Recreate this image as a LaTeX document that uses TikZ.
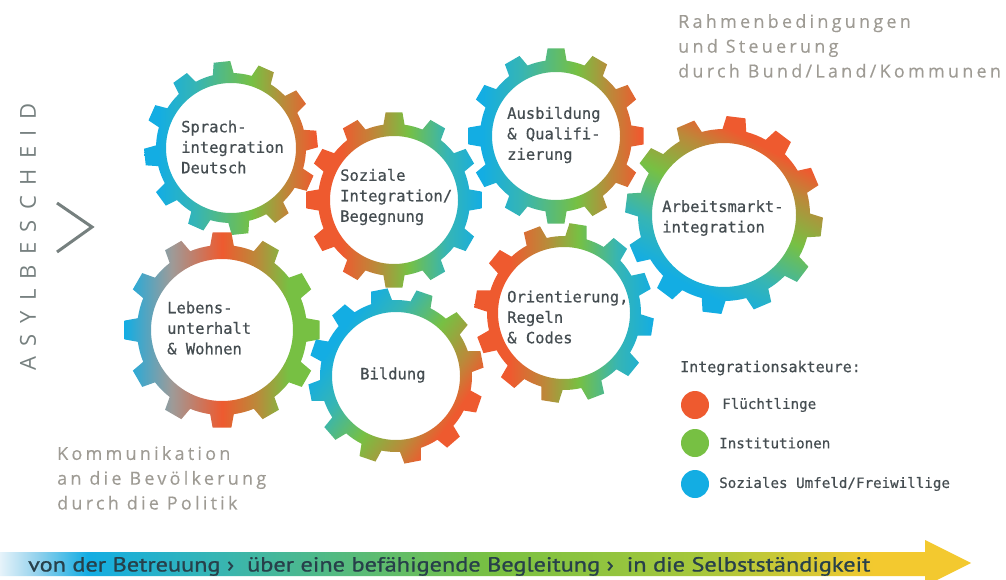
\documentclass[tikz,border=0pt]{standalone}
\usepackage{fontspec}
\usepackage{graphicx}
\setmainfont{DejaVu Sans}
\newfontfamily\monof[FakeBold=0.6]{DejaVu Sans Mono}
\newfontfamily\cornerf[LetterSpace=18, FakeBold=0.3]{Open Sans}
\newfontfamily\asylf[LetterSpace=47]{Open Sans}
\newfontfamily\arrowf[FakeBold=0.8]{PT Sans}
\definecolor{cBlue}{HTML}{13ADE3}
\definecolor{cTeal}{HTML}{36B5B4}
\definecolor{cGreen}{HTML}{77C043}
\definecolor{cBrown}{HTML}{BA8A3A}
\definecolor{cRed}{HTML}{EE5A2F}
\definecolor{cGrey}{HTML}{9D9B99}
\definecolor{cText}{HTML}{454D51}
\definecolor{cCorner}{HTML}{9E9B94}
\definecolor{cAsyl}{HTML}{76807F}
\definecolor{cArrowText}{HTML}{27404A}
\definecolor{cPale}{HTML}{E6F3FA}
\definecolor{cPaleB}{HTML}{8FD0EC}
\definecolor{cYG}{HTML}{A6C73B}
\definecolor{cYel}{HTML}{F3C92F}
\pgfdeclarehorizontalshading{bgr}{100bp}{color(0bp)=(cBlue); color(25bp)=(cBlue); color(29bp)=(cBlue); color(40bp)=(cTeal); color(56bp)=(cGreen); color(65bp)=(cBrown); color(74bp)=(cRed); color(100bp)=(cRed)}
\pgfdeclarehorizontalshading{bgrx}{100bp}{color(0bp)=(cBlue); color(25bp)=(cBlue); color(30bp)=(cBlue); color(40bp)=(cTeal); color(52bp)=(cGreen); color(63bp)=(cBrown); color(70bp)=(cRed); color(100bp)=(cRed)}
\pgfdeclarehorizontalshading{rgbs}{100bp}{color(0bp)=(cRed); color(25bp)=(cRed); color(35bp)=(cRed); color(45bp)=(cBrown); color(54bp)=(cGreen); color(65bp)=(cTeal); color(75bp)=(cBlue); color(100bp)=(cBlue)}
\pgfdeclarehorizontalshading{leb}{100bp}{color(0bp)=(cBlue); color(25bp)=(cBlue); color(37bp)=(cGrey); color(50bp)=(cRed); color(59bp)=(cBrown); color(67bp)=(cGreen); color(75bp)=(cGreen); color(100bp)=(cGreen)}
\pgfdeclarehorizontalshading{arr}{100bp}{color(0bp)=(cPale); color(25bp)=(cPale); color(27bp)=(cPaleB); color(29.5bp)=(cBlue); color(36bp)=(cTeal); color(50bp)=(cGreen); color(61bp)=(cYG); color(70bp)=(cYel); color(75bp)=(cYel); color(100bp)=(cYel)}
\newcommand\gearring[7]{%
  \begin{scope}[shift={(#1,#2)}]
    \shade[#7, even odd rule] ({#3-8}:#4)
      \foreach \k in {0,...,11}{
        -- ({#3+30*\k-5.5}:#5) -- ({#3+30*\k+5.5}:#5) -- ({#3+30*\k+8}:#4)
        arc[start angle={#3+30*\k+8}, end angle={#3+30*\k+22}, radius=#4]
      } -- cycle (0,0) circle[radius=#6];
  \end{scope}}
\tikzset{
  lbl/.style={anchor=west, align=left, inner sep=0pt, text=cText,
    font=\monof\fontsize{15.5}{20.5}\selectfont},
  legt/.style={anchor=west, inner sep=0pt, text=cText,
    font=\monof\fontsize{14.2}{17}\selectfont},
  legdot/.style={circle, inner sep=0pt, minimum size=28pt},
  corner/.style={anchor=north west, align=left, inner sep=0pt, text=cCorner,
    font=\cornerf\fontsize{18}{24.8}\selectfont}
}
\begin{document}
\begin{tikzpicture}[x=1pt,y=-1pt]
\useasboundingbox (0,0) rectangle (1006,580);
\clip (0,0) rectangle (1006,580);
% gears
\gearring{231}{148}{-96}{75}{87}{65}{shading=bgr}
\gearring{394}{200}{-90}{76}{88}{64}{shading=rgbs}
\gearring{556}{136}{-90}{76}{88}{64}{shading=bgr}
\gearring{724}{215}{-83}{86}{99}{72}{shading=bgrx, shading angle=62}
\gearring{222}{330}{-90}{85}{98}{71}{shading=leb}
\gearring{396}{376}{-101}{76}{88}{64}{shading=bgrx, shading angle=-35}
\gearring{564}{313}{-81}{77}{90}{66}{shading=rgbs}
% gear labels
\node[lbl] (t1) at (181,147) {Sprach-\\integration\\Deutsch};
\node[lbl] (t2) at (340,197) {Soziale\\Integration/\\Begegnung};
\node[lbl] (t3) at (507,135) {Ausbildung\\\& Qualifi-\\zierung};
\node[lbl] (t4) at (662,218) {Arbeitsmarkt-\\integration};
\node[lbl] (t5) at (167,328) {Lebens-\\unterhalt\\\& Wohnen};
\node[lbl] (t6) at (360,375) {Bildung};
\node[lbl] (t7) at (507,317) {Orientierung,\\Regeln\\\& Codes};
% corner texts
\node[corner] (rahmen) at (678,14) {Rahmenbedingungen\\und Steuerung\\durch Bund/Land/Kommunen};
\node[corner] (komm) at (57,446) {Kommunikation\\an die Bevölkerung\\durch die Politik};
% left label and chevron
\node[rotate=90, inner sep=0pt, text=cAsyl, font=\asylf\fontsize{22}{22}\selectfont] (asyl) at (28,237) {ASYLBESCHEID};
\coordinate (ch1) at (57,203);
\coordinate (ch2) at (92,227);
\coordinate (ch3) at (57,252);
\draw[cAsyl, line width=3pt] (ch1) -- (ch2) -- (ch3);
% legend
\node[anchor=west, inner sep=0pt, text=cText, font=\monof\fontsize{15}{17}\selectfont] (lt) at (680,368) {Integrationsakteure:};
\node[legdot, fill=cRed] (d1) at (695,405) {};
\node[legdot, fill=cGreen] (d2) at (695,443) {};
\node[legdot, fill=cBlue] (d3) at (695,484) {};
\node[legt] (l1) at (722,405) {Flüchtlinge};
\node[legt] (l2) at (719,443) {Institutionen};
\node[legt] (l3) at (719,484) {Soziales Umfeld/Freiwillige};
% bottom arrow
\shade[shading=arr] (0,552) -- (925,552) -- (925,540) -- (971,563) -- (925,586) -- (925,576) -- (0,576) -- cycle;
\node[anchor=base west, inner sep=0pt, text=cArrowText] (atx) at (28,571.5) {\resizebox{842pt}{14.5pt}{\arrowf von der Betreuung ›\ \ über eine befähigende Begleitung ›\ \ in die Selbstständigkeit}};
\end{tikzpicture}
\end{document}
